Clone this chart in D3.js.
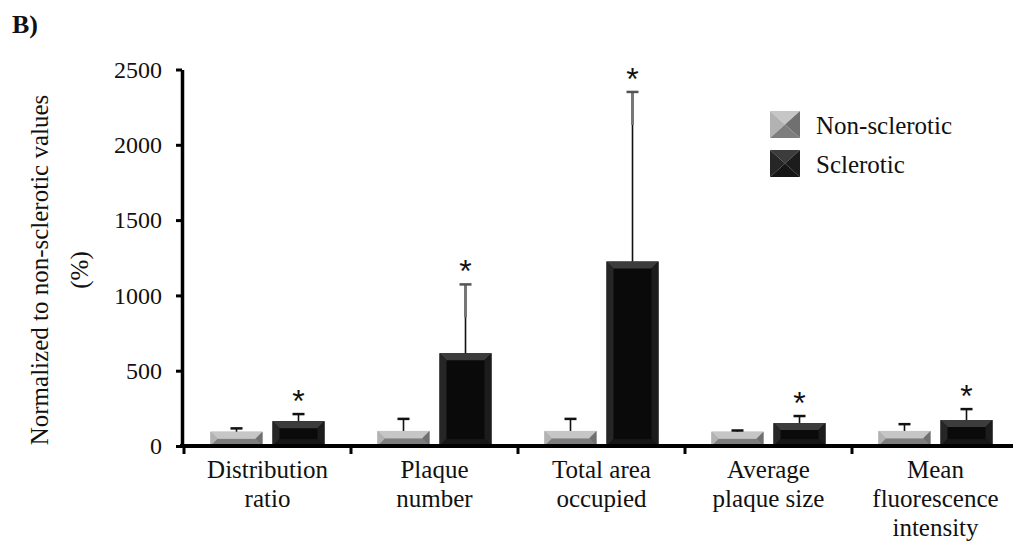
<!DOCTYPE html>
<html>
<head>
<meta charset="utf-8">
<script src="https://cdn.jsdelivr.net/npm/d3@7"></script>
<style>
  body { margin: 0; background: #fff; }
  text { font-family: "Liberation Serif", "Times New Roman", serif; fill: #111; }
</style>
</head>
<body>
<div id="chart-container"></div>
<script>
// Data
const categories = ["Distribution ratio", "Plaque number", "Total area occupied", "Average plaque size", "Mean fluorescence intensity"];
const categoryLines = [["Distribution", "ratio"], ["Plaque", "number"], ["Total area", "occupied"], ["Average", "plaque size"], ["Mean", "fluorescence", "intensity"]];
const series = ["Non-sclerotic", "Sclerotic"];
const nonSclerotic = [95, 100, 100, 95, 100];
const nonSclerErr = [22, 80, 80, 8, 45];
const sclerotic = [165, 616, 1225, 152, 172];
const sclerErr = [47, 457, 1126, 47, 73];
const significant = [true, true, true, true, true];
const yTicks = [0, 500, 1000, 1500, 2000, 2500];

const W = 1013, H = 542;
const svg = d3.select("#chart-container").append("svg")
    .attr("width", W)
    .attr("height", H);

const y = d3.scaleLinear().domain([0, 2500]).range([446, 69.5]);
const x0 = d3.scaleBand().domain(categories).range([184, 1019]).padding(0);
const x1 = d3.scaleBand().domain(series).range([0, x0.bandwidth()])
    .paddingInner(0.161).paddingOuter(0.427);

const rows = categories.map((c, i) => ({
    cat: c,
    bars: [
        { s: series[0], v: nonSclerotic[i], e: nonSclerErr[i] },
        { s: series[1], v: sclerotic[i], e: sclerErr[i] }
    ],
    sig: significant[i]
}));

// bevel colours: face, top, left, right, bottom
const bevel = {
    "Non-sclerotic": ["#9c9c9c", "#c6c6c6", "#b2b2b2", "#707070", "#7e7e7e"],
    "Sclerotic": ["#0a0a0a", "#3c3c3c", "#262626", "#1c1c1c", "#161616"]
};

function drawBevelRect(g, x, yTop, w, h, cols, b) {
    b = Math.min(b, h / 2, w / 2);
    const x2 = x + w, y2 = yTop + h;
    g.append("rect").attr("x", x).attr("y", yTop).attr("width", w).attr("height", h).attr("fill", cols[0]);
    const polys = [
        [[x, yTop], [x2, yTop], [x2 - b, yTop + b], [x + b, yTop + b]],
        [[x, yTop], [x + b, yTop + b], [x + b, y2 - b], [x, y2]],
        [[x2, yTop], [x2, y2], [x2 - b, y2 - b], [x2 - b, yTop + b]],
        [[x, y2], [x + b, y2 - b], [x2 - b, y2 - b], [x2, y2]]
    ];
    polys.forEach((p, k) => g.append("polygon")
        .attr("points", p.map(q => q.join(",")).join(" "))
        .attr("fill", cols[k + 1]));
}

// Bars
const groups = svg.append("g").selectAll("g")
    .data(rows)
    .join("g")
    .attr("transform", d => `translate(${x0(d.cat)},0)`);

groups.each(function(d) {
    const g = d3.select(this);
    d.bars.forEach(b => {
        const bx = x1(b.s);
        drawBevelRect(g, bx, y(b.v), x1.bandwidth(), y(0) - y(b.v), bevel[b.s], 7);
    });
});

// Error bars (upper only)
groups.each(function(d) {
    const g = d3.select(this);
    d.bars.forEach(b => {
        const cx = x1(b.s) + x1.bandwidth() / 2;
        const top = y(b.v + b.e), base = y(b.v);
        g.append("line").attr("x1", cx).attr("x2", cx).attr("y1", base).attr("y2", top)
            .attr("stroke", "#111").attr("stroke-width", 1.6);
        if (base - top > 50) {
            g.append("line").attr("x1", cx).attr("x2", cx).attr("y1", top).attr("y2", top + 33)
                .attr("stroke", "#777").attr("stroke-width", 3);
        }
        g.append("line").attr("x1", cx - 6).attr("x2", cx + 6).attr("y1", top).attr("y2", top)
            .attr("stroke", base - top > 50 ? "#555" : "#111").attr("stroke-width", 2.5);
    });
    if (d.sig) {
        const b = d.bars[1];
        const cx = x1(b.s) + x1.bandwidth() / 2;
        g.append("text").attr("x", cx).attr("y", y(b.v + b.e) - 2)
            .attr("text-anchor", "middle")
            .style("font-family", "'Liberation Sans', Arial, sans-serif")
            .style("font-size", "32px")
            .text("*");
    }
});

// Y axis
const yAxis = svg.append("g")
    .attr("transform", "translate(182,0)")
    .call(d3.axisLeft(y).tickValues(yTicks).tickFormat(d3.format("d"))
        .tickSize(6).tickSizeOuter(0).tickPadding(14));
yAxis.select(".domain").attr("stroke", "#000").attr("stroke-width", 3.5);
yAxis.selectAll(".tick line").attr("stroke", "#000").attr("stroke-width", 3);
yAxis.selectAll(".tick text")
    .style("font-family", "'Liberation Serif', 'Times New Roman', serif")
    .style("font-size", "24px").attr("fill", "#111");

// X axis
const xAxis = svg.append("g")
    .attr("transform", `translate(0,${y(0)})`)
    .call(d3.axisBottom(x0).tickSize(0).tickFormat(""));
xAxis.select(".domain").attr("d", `M180,0H${W}`).attr("stroke", "#000").attr("stroke-width", 4);
xAxis.selectAll(".tick").remove();
xAxis.selectAll(".sep")
    .data(categories)
    .join("line")
    .attr("x1", d => x0(d)).attr("x2", d => x0(d))
    .attr("y1", 0).attr("y2", 8)
    .attr("stroke", "#000").attr("stroke-width", 3);

// Category labels
categories.forEach((c, i) => {
    const t = svg.append("text")
        .attr("text-anchor", "middle")
        .style("font-size", "25px");
    categoryLines[i].forEach((line, k) => {
        t.append("tspan")
            .attr("x", x0(c) + x0.bandwidth() / 2)
            .attr("y", 478 + k * 29)
            .text(line);
    });
});

// Y title
svg.append("text")
    .attr("transform", "translate(48,270) rotate(-90)")
    .attr("text-anchor", "middle")
    .style("font-size", "25px")
    .text("Normalized to non-sclerotic values");
svg.append("text")
    .attr("transform", "translate(88,270) rotate(-90)")
    .attr("text-anchor", "middle")
    .style("font-size", "25px")
    .text("(%)");

// Panel label
svg.append("text")
    .attr("x", 12).attr("y", 33)
    .style("font-size", "26px").style("font-weight", "bold")
    .text("B)");

// Legend
const legend = svg.append("g").attr("transform", "translate(770,111)");
series.forEach((s, i) => {
    const g = legend.append("g").attr("transform", `translate(0,${i * 39})`);
    const c = bevel[s];
    const w = 30, h = 27;
    g.append("polygon").attr("points", `0,0 ${w},0 ${w / 2},${h / 2}`).attr("fill", c[1]);
    g.append("polygon").attr("points", `0,0 ${w / 2},${h / 2} 0,${h}`).attr("fill", c[2]);
    g.append("polygon").attr("points", `${w},0 ${w},${h} ${w / 2},${h / 2}`).attr("fill", c[3]);
    g.append("polygon").attr("points", `0,${h} ${w / 2},${h / 2} ${w},${h}`).attr("fill", c[4]);
    g.append("text").attr("x", 46).attr("y", 23)
        .style("font-size", "25px")
        .text(s);
});
</script>
</body>
</html>
